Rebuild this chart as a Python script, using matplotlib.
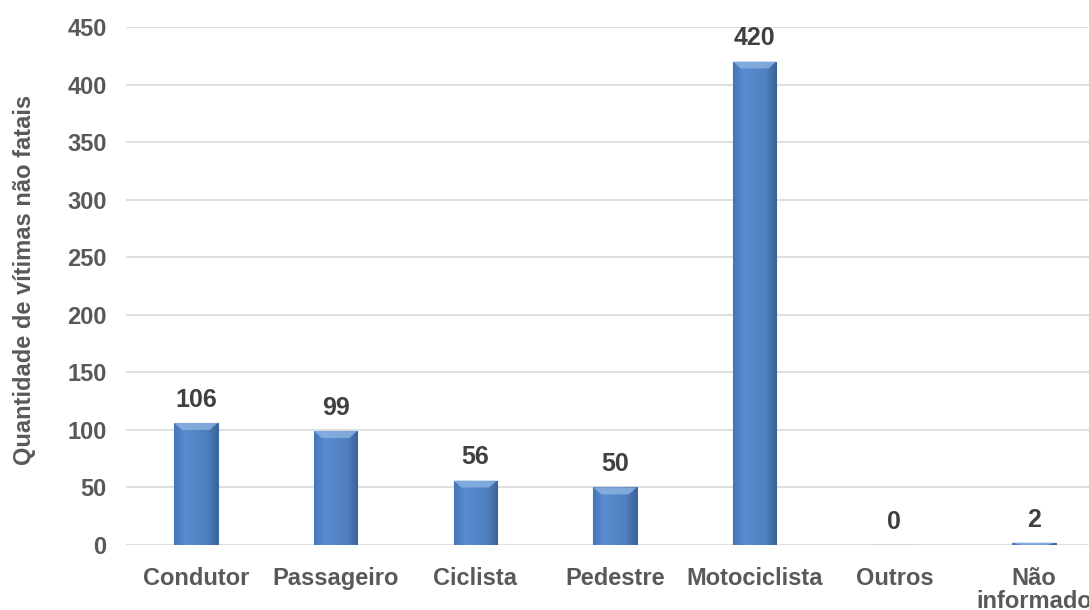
import numpy as np
import matplotlib.pyplot as plt
from matplotlib.colors import LinearSegmentedColormap

categorias = ["Condutor", "Passageiro", "Ciclista", "Pedestre", "Motociclista", "Outros", "Não\ninformado"]
vitimas = [106, 99, 56, 50, 420, 0, 2]
y_ticks = [0, 50, 100, 150, 200, 250, 300, 350, 400, 450]

plt.rcParams['font.family'] = ['Liberation Sans', 'DejaVu Sans']
cinza = "#595959"

fig = plt.figure(figsize=(10.89, 6.10), dpi=100)
ax = fig.add_axes([126 / 1089, 65 / 610, 978 / 1089, 518 / 610])

x = np.arange(len(categorias))
bars = ax.bar(x, vitimas, width=0.31, color="#4F81BD", edgecolor="#3E6DA6", linewidth=0.8, zorder=3)

# gradiente horizontal dentro das barras
cmap = LinearSegmentedColormap.from_list("bev", ["#4576B8", "#5A8DD0", "#5586C8", "#4F80BF", "#3A6399"])
grad = np.linspace(0, 1, 64).reshape(1, -1)
for b in bars:
    if b.get_height() <= 0:
        continue
    x0, w, h = b.get_x(), b.get_width(), b.get_height()
    im = ax.imshow(grad, cmap=cmap, extent=[x0, x0 + w, 0, h], aspect="auto", zorder=3.5)
    im.set_clip_path(b)
    # chanfro superior
    bev = min(6, h * 0.9)
    ax.fill([x0, x0 + w, x0 + w * 0.82, x0 + w * 0.18], [h, h, h - bev, h - bev],
            color="#8DB4E2", alpha=0.8, zorder=4, linewidth=0)

ax.set_xlim(-0.5, len(categorias) - 0.5)
ax.set_ylim(0, 450)
ax.set_yticks(y_ticks)
ax.grid(axis="y", color="#D9D9D9", linewidth=1.2, zorder=0)
for s in ax.spines.values():
    s.set_visible(False)
ax.tick_params(length=0, labelsize=17, labelcolor=cinza)
ax.tick_params(axis="y", pad=14)
ax.tick_params(axis="x", pad=16)
ax.set_xticks(x)
ax.set_xticklabels(categorias, fontweight="bold", va="top")
for lbl in ax.get_yticklabels():
    lbl.set_fontweight("bold")
for lbl in ax.get_xticklabels():
    lbl.set_linespacing(1.0)

for xi, v in zip(x, vitimas):
    ax.annotate(str(v), (xi, v), xytext=(0, 8), textcoords="offset points",
                ha="center", va="bottom", fontsize=18, fontweight="bold", color="#404040")

fig.text(25 / 1089, 1 - 280 / 610, "Quantidade de vítimas não fatais", rotation=90,
         ha="center", va="center", fontsize=17, fontweight="bold", color=cinza)

fig.savefig("out.png", dpi=100)
